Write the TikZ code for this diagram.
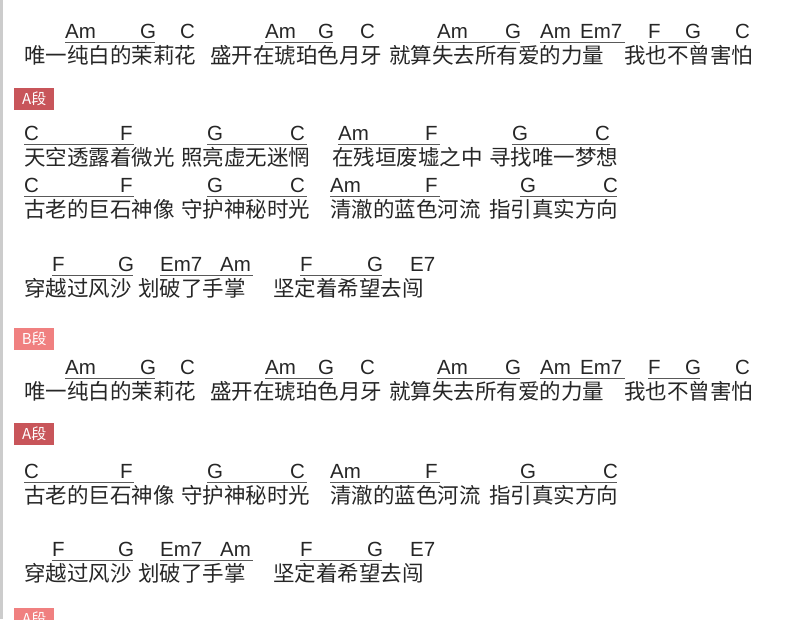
\documentclass[tikz,border=0pt]{standalone}
\usepackage{fontspec}
\newfontfamily\cjk{Noto Sans CJK SC}
\newfontfamily\chf{Liberation Sans}
\begin{document}
\begin{tikzpicture}[x=1pt,y=-1pt,
  chord/.style={anchor=base west,inner sep=0pt,font=\chf\fontsize{20.5}{20.5}\selectfont,text=black!85},
  lyric/.style={anchor=base west,inner sep=0pt,font=\cjk\fontsize{21.5}{21.5}\selectfont,text=black!85},
  uline/.style={draw=black!65,line width=1pt},
  tag/.style={anchor=north west,inner sep=0pt,minimum width=40pt,minimum height=22pt,text=white,font=\cjk\fontsize{15}{15}\selectfont}]
\useasboundingbox (0,0) rectangle (800,619);
\fill[black!20] (0,0) rectangle (3,619);
\newcommand\rowA[2]{%
 \foreach \x/\t [count=\i] in {65/Am,140/G,180/C,265/Am,318/G,360/C,437/Am,505/G,540/Am,580/Em7,648/F,685/G,735/C}
   \node[chord] (#2c\i) at (\x,#1) {\t};
 \foreach \a/\b in {65/155,265/333,437/520,540/625,648/700} \draw[uline] (\a,#1+4) -- (\b,#1+4);
 \foreach \x/\t [count=\i] in {24/唯一纯白的茉莉花,210/盛开在琥珀色月牙,389/就算失去所有爱的力量,624/我也不曾害怕}
   \node[lyric] (#2l\i) at (\x,#1+25) {\t};}
\newcommand\rowC[2]{%
 \foreach \x/\t [count=\i] in {24/C,120/F,207/G,290/C,330/Am,425/F,520/G,603/C}
   \node[chord] (#2c\i) at (\x,#1) {\t};
 \foreach \a/\b in {24/134,207/307,330/440,520/617} \draw[uline] (\a,#1+4) -- (\b,#1+4);
 \foreach \x/\t [count=\i] in {24/古老的巨石神像,181/守护神秘时光,330/清澈的蓝色河流,489/指引真实方向}
   \node[lyric] (#2l\i) at (\x,#1+25) {\t};}
\newcommand\rowD[2]{%
 \foreach \x/\t [count=\i] in {52/F,118/G,160/Em7,220/Am,300/F,367/G,410/E7}
   \node[chord] (#2c\i) at (\x,#1) {\t};
 \foreach \a/\b in {52/133,160/253,300/382} \draw[uline] (\a,#1+4) -- (\b,#1+4);
 \foreach \x/\t [count=\i] in {24/穿越过风沙,138/划破了手掌,273/坚定着希望去闯}
   \node[lyric] (#2l\i) at (\x,#1+25) {\t};}
\rowA{38}{ra}
\node[tag,fill={rgb,255:red,200;green,85;blue,90}] (ta1) at (14,88) {A段};
\foreach \x/\t [count=\i] in {24/C,120/F,207/G,290/C,338/Am,425/F,512/G,595/C}
  \node[chord] (rbc\i) at (\x,140) {\t};
\foreach \a/\b in {24/134,207/307,338/440,512/610} \draw[uline] (\a,144) -- (\b,144);
\foreach \x/\t [count=\i] in {24/天空透露着微光,181/照亮虚无迷惘,332/在残垣废墟之中,489/寻找唯一梦想}
  \node[lyric] (rbl\i) at (\x,165) {\t};
\rowC{192}{rc}
\rowD{271}{rd}
\node[tag,fill={rgb,255:red,240;green,128;blue,128}] (tb) at (14,328) {B段};
\rowA{374}{re}
\node[tag,fill={rgb,255:red,200;green,85;blue,90}] (ta2) at (14,423) {A段};
\rowC{478}{rf}
\rowD{556}{rg}
\node[tag,fill={rgb,255:red,240;green,128;blue,128}] (tc) at (14,608) {A段};
\end{tikzpicture}
\end{document}
